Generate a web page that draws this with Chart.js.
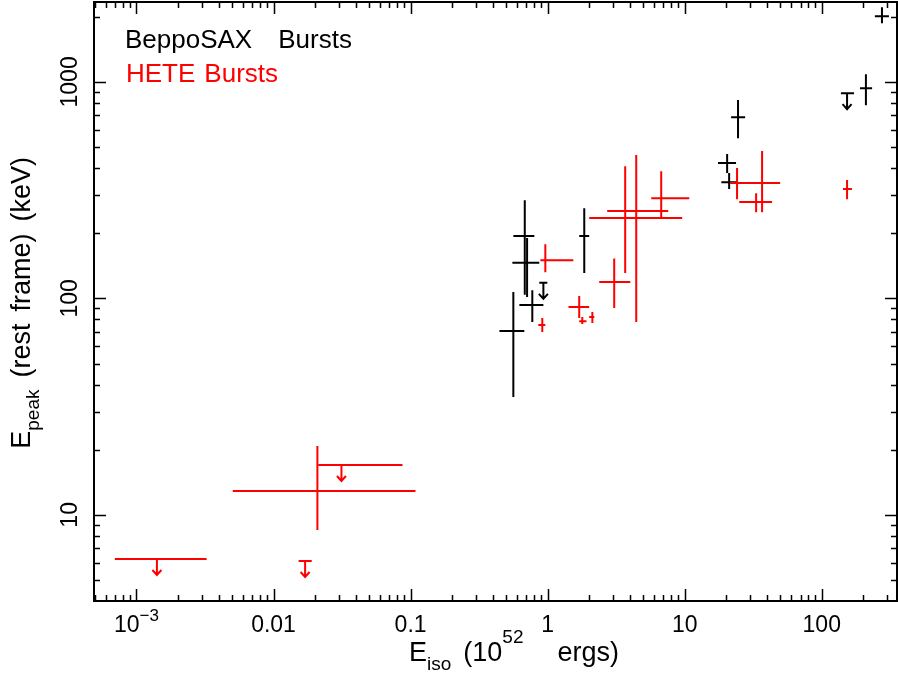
<!DOCTYPE html>
<html>
<head>
<meta charset="utf-8">
<script src="https://cdn.jsdelivr.net/npm/chart.js@4.4.1/dist/chart.umd.min.js"></script>
<style>
  body { margin: 0; background: #fff; }
</style>
</head>
<body>
<canvas id="c" width="898" height="676"></canvas>
<script>
//--- BeppoSAX bursts (Eiso in 1e52 erg, Epeak in keV)
var saxX   = [0.562, 0.681, 0.708, 0.773, 1.85, 20.4, 21.1, 24.5, 210, 275];
var saxXlo = [0.445, 0.562, 0.553, 0.622, 1.70, 17.5, 18.5, 21.8, 190, 244];
var saxXhi = [0.676, 0.800, 0.869, 0.931, 2.01, 23.7, 24.1, 27.6, 233, 309];
var saxY   = [70.7, 194, 146, 93.1, 194, 422, 344, 687, 935, 2009];
var saxYlo = [35.0, 104, 101.5, 77.8, 131, 379, 320, 549, 780, 1866];
var saxYhi = [107, 284, 190, 109, 261, 464, 379, 824, 1086, 2213];
// upper limits
var saxLimX   = [0.931, 153];
var saxLimXlo = [0.869, 138];
var saxLimXhi = [0.995, 172];
var saxLimY   = [118, 887];

//--- HETE bursts
var heteX   = [0.0209, 0.914, 0.962, 1.70, 1.79, 2.12, 3.06, 3.68, 4.43, 6.74, 24.1, 33.2, 36.7, 153];
var heteXlo = [0.00504, 0.855, 0.885, 1.42, 1.70, 2.01, 2.38, 2.72, 2.01, 5.70, 21.5, 25.0, 25.4, 143];
var heteXhi = [0.1086, 0.962, 1.54, 2.01, 1.92, 2.19, 4.01, 7.59, 9.59, 10.8, 29.0, 43.4, 49.7, 166];
var heteY   = [12.9, 75.3, 150, 91.2, 78.5, 82.0, 119, 253, 235, 290, 341, 279, 341, 320];
var heteYlo = [8.51, 69.9, 132, 81.1, 76.1, 76.9, 90.2, 131, 77.8, 235, 287, 250, 250, 287];
var heteYhi = [20.8, 81.1, 178, 102.5, 82.0, 86.5, 153, 408, 459, 387, 400, 306, 479, 352];
// upper limits
var heteLimX   = [0.00141, 0.0170, 0.0313];
var heteLimXlo = [0.000695, 0.01524, 0.0213];
var heteLimXhi = [0.00325, 0.0190, 0.0873];
var heteLimY   = [6.25, 6.12, 17.0];

//--- axes
var xMin = 4.9e-4, xMax = 354;
var yMin = 4.0, yMax = 2339;
var xTickVals = [1e-3, 0.01, 0.1, 1, 10, 100];
var xTickLabels = ['10^-3', '0.01', '0.1', '1', '10', '100'];
var yTickVals = [10, 100, 1000];
var yTickLabels = ['10', '100', '1000'];

var FONT = '"Liberation Sans", Arial, sans-serif';
var RED = '#ff0000';

function crossPoints(xs, xlo, xhi, ys, ylo, yhi) {
    var pts = [];
    xs.forEach(function (v, i) {
        pts.push({ x: xlo[i], y: ys[i] }, { x: xhi[i], y: ys[i] }, { x: v, y: null });
        pts.push({ x: v, y: ylo[i] }, { x: v, y: yhi[i] }, { x: v, y: null });
    });
    return pts;
}
function capPoints(xs, xlo, xhi, ys) {
    var pts = [];
    xs.forEach(function (v, i) {
        pts.push({ x: xlo[i], y: ys[i] }, { x: xhi[i], y: ys[i] }, { x: v, y: null });
    });
    return pts;
}

// text made of pieces (sub/superscripts, gaps)
function runsWidth(ctx, runs) {
    var w = 0;
    runs.forEach(function (r) {
        if (r.gap) { w += r.gap; return; }
        ctx.font = r.size + 'px ' + FONT;
        w += ctx.measureText(r.t).width;
    });
    return w;
}
function drawRuns(ctx, runs, x0, base) {
    var x = x0;
    runs.forEach(function (r) {
        if (r.gap) { x += r.gap; return; }
        ctx.font = r.size + 'px ' + FONT;
        ctx.fillText(r.t, x, base + (r.dy || 0));
        x += ctx.measureText(r.t).width;
    });
}
function tickRuns(lbl) {
    if (lbl.indexOf('^') >= 0) {
        var p = lbl.split('^');
        return [{ t: p[0], size: 23 }, { t: p[1].replace('-', '\u2212'), size: 17, dy: -11 }];
    }
    return [{ t: lbl, size: 23 }];
}

var decor = {
    id: 'decor',
    afterDatasetsDraw: function (chart) {
        var ctx = chart.ctx, a = chart.chartArea;
        var xs = chart.scales.x, ys = chart.scales.y;
        ctx.save();
        ctx.strokeStyle = '#000';
        ctx.lineWidth = 2;
        ctx.strokeRect(a.left, a.top, a.right - a.left, a.bottom - a.top);

        // inward ticks on all four sides
        ctx.lineWidth = 1.5;
        ctx.beginPath();
        for (var d = -4; d <= 3; d++) {
            for (var m = 1; m <= 9; m++) {
                var v = m * Math.pow(10, d);
                var len = (m === 1) ? 12 : 6;
                if (v > xMin && v < xMax) {
                    var px = Math.round(xs.getPixelForValue(v)) + 0.5;
                    ctx.moveTo(px, a.bottom); ctx.lineTo(px, a.bottom - len);
                    ctx.moveTo(px, a.top); ctx.lineTo(px, a.top + len);
                }
                if (v > yMin && v < yMax) {
                    var py = Math.round(ys.getPixelForValue(v)) + 0.5;
                    ctx.moveTo(a.left, py); ctx.lineTo(a.left + len, py);
                    ctx.moveTo(a.right, py); ctx.lineTo(a.right - len, py);
                }
            }
        }
        ctx.stroke();

        // upper-limit arrows
        function arrows(lx, ly, color) {
            ctx.strokeStyle = color;
            ctx.lineWidth = 2;
            lx.forEach(function (v, i) {
                var px = xs.getPixelForValue(v), py = ys.getPixelForValue(ly[i]);
                ctx.beginPath();
                ctx.moveTo(px, py); ctx.lineTo(px, py + 16);
                ctx.moveTo(px - 4.5, py + 11); ctx.lineTo(px, py + 16); ctx.lineTo(px + 4.5, py + 11);
                ctx.stroke();
            });
        }
        arrows(saxLimX, saxLimY, '#000');
        arrows(heteLimX, heteLimY, RED);

        // tick labels
        ctx.fillStyle = '#000';
        ctx.textAlign = 'left';
        ctx.textBaseline = 'alphabetic';
        xTickVals.forEach(function (v, i) {
            var runs = tickRuns(xTickLabels[i]);
            var w = runsWidth(ctx, runs);
            drawRuns(ctx, runs, xs.getPixelForValue(v) - w / 2, 632);
        });
        yTickVals.forEach(function (v, i) {
            var runs = tickRuns(yTickLabels[i]);
            var w = runsWidth(ctx, runs);
            ctx.save();
            ctx.translate(77, ys.getPixelForValue(v));
            ctx.rotate(-Math.PI / 2);
            drawRuns(ctx, runs, -w / 2, 0);
            ctx.restore();
        });

        // axis titles
        drawRuns(ctx, [
            { t: 'E', size: 27 }, { t: 'iso', size: 19, dy: 9 }, { gap: 12 },
            { t: '(10', size: 27 }, { t: '52', size: 19, dy: -18 }, { gap: 34 },
            { t: 'ergs)', size: 27 }
        ], 409, 661);

        var yRuns = [
            { t: 'E', size: 27 }, { t: 'peak', size: 19, dy: 9 }, { gap: 12 },
            { t: '(rest', size: 27 }, { gap: 12 }, { t: 'frame)', size: 27 }, { gap: 12 },
            { t: '(keV)', size: 27 }
        ];
        var yw = runsWidth(ctx, yRuns);
        ctx.save();
        ctx.translate(30, 0);
        ctx.rotate(-Math.PI / 2);
        drawRuns(ctx, yRuns, -(157 + yw), 0);
        ctx.restore();

        // legend text
        ctx.fillStyle = '#000';
        drawRuns(ctx, [{ t: 'BeppoSAX', size: 26 }, { gap: 26 }, { t: 'Bursts', size: 26 }], 125, 48);
        ctx.fillStyle = RED;
        drawRuns(ctx, [{ t: 'HETE', size: 26 }, { gap: 9 }, { t: 'Bursts', size: 26 }], 126, 82);
        ctx.restore();
    }
};

var ctx = document.getElementById('c');
var chart = new Chart(ctx, {
    type: 'scatter',
    data: {
        datasets: [{
            label: 'HETE Bursts',
            data: crossPoints(heteX, heteXlo, heteXhi, heteY, heteYlo, heteYhi)
                .concat(capPoints(heteLimX, heteLimXlo, heteLimXhi, heteLimY)),
            showLine: true,
            spanGaps: false,
            borderColor: RED,
            borderWidth: 2,
            pointRadius: 0
        }, {
            label: 'BeppoSAX Bursts',
            data: crossPoints(saxX, saxXlo, saxXhi, saxY, saxYlo, saxYhi)
                .concat(capPoints(saxLimX, saxLimXlo, saxLimXhi, saxLimY)),
            showLine: true,
            spanGaps: false,
            borderColor: '#000',
            borderWidth: 2,
            pointRadius: 0
        }]
    },
    options: {
        responsive: false,
        animation: false,
        devicePixelRatio: 1,
        layout: { padding: { top: 2, right: 1, left: 0, bottom: 0 } },
        plugins: { legend: { display: false }, tooltip: { enabled: false } },
        scales: {
            x: {
                type: 'logarithmic', min: xMin, max: xMax,
                ticks: { display: false }, grid: { display: false }, border: { display: false },
                afterFit: function (s) { s.height = 75; }
            },
            y: {
                type: 'logarithmic', min: yMin, max: yMax,
                ticks: { display: false }, grid: { display: false }, border: { display: false },
                afterFit: function (s) { s.width = 94; }
            }
        }
    },
    plugins: [decor]
});
</script>
</body>
</html>
